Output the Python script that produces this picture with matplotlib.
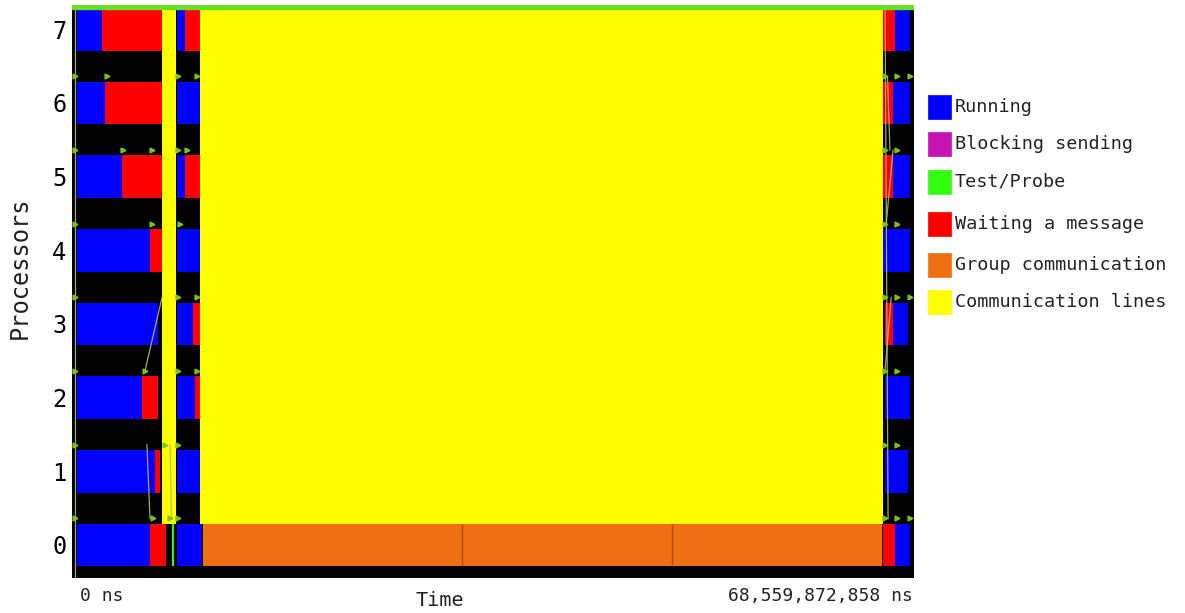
import matplotlib
matplotlib.use("Agg")
import matplotlib.pyplot as plt
from matplotlib.patches import Rectangle

# ---------------- data ----------------
t_end_ns = 68559872858
t_end_s = t_end_ns / 1e9
processors = [0, 1, 2, 3, 4, 5, 6, 7]

states = ["Running", "Blocking sending", "Test/Probe", "Waiting a message",
          "Group communication", "Communication lines"]
state_colors = ["#0000FF", "#C814B4", "#33FF11", "#FF0000", "#EE7012", "#FFFF00"]

# per processor: (start_s, end_s, state)
segments = {
    7: [(0.41, 2.44, "Running"), (2.44, 7.33, "Waiting a message"),
        (8.55, 9.20, "Running"), (9.20, 10.42, "Waiting a message"),
        (66.04, 67.01, "Waiting a message"), (67.01, 68.24, "Running")],
    6: [(0.41, 2.69, "Running"), (2.69, 7.33, "Waiting a message"),
        (8.55, 10.42, "Running"),
        (66.04, 66.85, "Waiting a message"), (66.85, 68.24, "Running")],
    5: [(0.41, 4.07, "Running"), (4.07, 7.33, "Waiting a message"),
        (8.55, 9.20, "Running"), (9.20, 10.42, "Waiting a message"),
        (66.04, 66.85, "Waiting a message"), (66.85, 68.24, "Running")],
    4: [(0.41, 6.35, "Running"), (6.35, 7.33, "Waiting a message"),
        (8.55, 10.42, "Running"),
        (66.04, 68.24, "Running")],
    3: [(0.41, 7.00, "Running"),
        (8.55, 9.85, "Running"), (9.85, 10.42, "Waiting a message"),
        (66.20, 66.85, "Waiting a message"), (66.85, 68.07, "Running")],
    2: [(0.41, 5.70, "Running"), (5.70, 7.00, "Waiting a message"),
        (8.55, 10.02, "Running"), (10.02, 10.42, "Waiting a message"),
        (66.20, 68.24, "Running")],
    1: [(0.41, 6.76, "Running"), (6.76, 7.17, "Waiting a message"),
        (8.55, 10.42, "Running"),
        (66.20, 68.07, "Running")],
    0: [(0.41, 6.35, "Running"), (6.35, 7.17, "Waiting a message"),
        (7.17, 7.65, "Waiting a message"), (8.18, 8.30, "Test/Probe"),
        (8.55, 10.59, "Running"),
        (10.67, 31.76, "Group communication"), (31.76, 48.86, "Group communication"),
        (48.86, 65.95, "Group communication"),
        (66.04, 67.01, "Waiting a message"), (67.01, 68.24, "Running")],
}

# dense communication-line areas: (start_s, end_s)
comm_bands = [(7.33, 8.47), (10.42, 66.04)]

# individual communication lines: (t_from, proc_from, t_to, proc_to)
comm_lines = [
    (0.24, 7, 0.24, -1),
    (7.33, 3, 5.94, 2),
    (6.10, 1, 6.35, 0),
    (7.98, 1, 8.10, 0),
    (66.20, 7, 66.45, 0),
    (66.85, 5, 66.30, 4),
    (66.70, 3, 66.20, 2),
    (66.40, 6, 66.60, 5),
]

# arrow marks (green) at row separators: proc -> times (s)
arrow_marks = {
    6: [0.24, 2.85, 8.63, 10.18, 66.20, 67.18, 68.24],
    5: [0.24, 4.15, 6.51, 8.63, 9.36, 66.20, 67.18],
    4: [0.24, 6.51, 8.79, 66.20, 67.18],
    3: [0.24, 8.63, 10.18, 66.20, 67.18, 68.24],
    2: [0.24, 5.94, 8.63, 10.18, 66.20, 67.18],
    1: [0.24, 7.57, 8.63, 66.20, 67.18],
    0: [0.24, 6.60, 7.98, 8.63, 66.20, 67.18, 68.24],
}

# ---------------- figure ----------------
W, H = 1185, 613
fig = plt.figure(figsize=(W / 100, H / 100), dpi=100)
ax = fig.add_axes([72 / W, 1 - 578 / H, (914 - 72) / W, (578 - 5) / H])
ax.set_facecolor("black")

half = 0.29
ymin, ymax = -0.448, 7.33
cmap = dict(zip(states, state_colors))

for p in processors:
    for (a, b, s) in segments[p]:
        ax.broken_barh([(a, b - a)], (p - half, 2 * half),
                       facecolors=cmap[s], edgecolor="none")

# orange separators inside group communication
for p in processors:
    gs = [seg for seg in segments[p] if seg[2] == "Group communication"]
    for (a, b, s) in gs[1:]:
        ax.vlines(a, p - half, p + half, color="#B84A10", lw=1.0)

# yellow communication line areas (from row 0 bar top to top)
for (a, b) in comm_bands:
    ax.add_patch(Rectangle((a, processors[0] + half), b - a,
                           ymax - (processors[0] + half),
                           facecolor=cmap["Communication lines"], edgecolor="none",
                           zorder=3))

off = 0.36
for (t0, p0, t1, p1) in comm_lines:
    ax.plot([t0, t1], [p0 + off, p1 + off], color="#B8B878", lw=0.9, zorder=4,
            alpha=0.9)

for p, ts in arrow_marks.items():
    ax.plot(ts, [p + off] * len(ts), linestyle="none", marker=">", ms=3.5,
            color="#7EC020", zorder=5)

# top green line (Test/Probe)
ax.axhspan(ymax - 0.055, ymax, color="#66E020", zorder=6)

ax.set_xlim(0, t_end_s)
ax.set_ylim(ymin, ymax)
ax.set_xticks([])
ax.set_yticks(processors)
ax.set_yticklabels([str(p) for p in processors], family="DejaVu Sans Mono",
                   fontsize=17)
ax.tick_params(axis="y", length=0, pad=4)
for sp in ax.spines.values():
    sp.set_visible(False)

fig.text(20 / W, 1 - 268 / H, "Processors", rotation=90, ha="center", va="center",
         family="DejaVu Sans Mono", fontsize=17, color="#222222")
fig.text(80 / W, 1 - 596 / H, "0 ns", ha="left", va="center",
         family="DejaVu Sans Mono", fontsize=13, color="#222222")
fig.text(440 / W, 1 - 600 / H, "Time", ha="center", va="center",
         family="DejaVu Sans Mono", fontsize=14.5, color="#222222")
fig.text(913 / W, 1 - 596 / H, f"{t_end_ns:,} ns", ha="right", va="center",
         family="DejaVu Sans Mono", fontsize=13, color="#222222")

# legend
leg_y = [107, 144, 182, 224, 265, 302]
for s, c, yc in zip(states, state_colors, leg_y):
    fig.patches.append(Rectangle((928 / W, 1 - (yc + 12) / H), 23 / W, 24 / H,
                                 transform=fig.transFigure, facecolor=c,
                                 edgecolor=c, lw=0.5))
    fig.text(955 / W, 1 - yc / H, s, ha="left", va="center",
             family="DejaVu Sans Mono", fontsize=13.3, color="#222222")

fig.savefig("out.png", dpi=100)
